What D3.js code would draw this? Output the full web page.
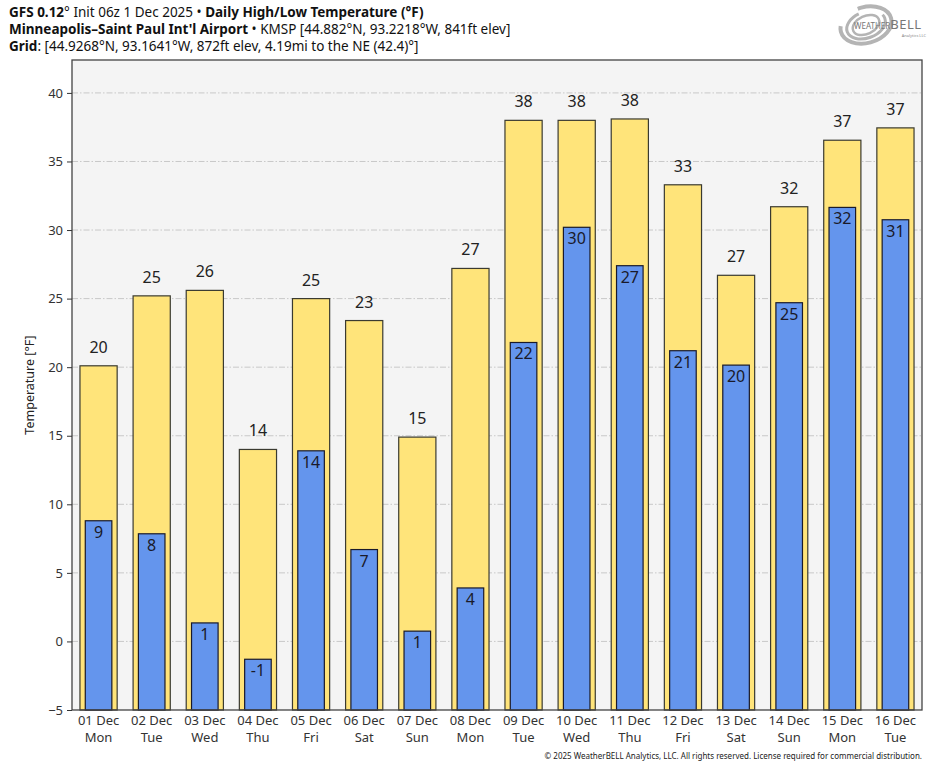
<!DOCTYPE html>
<html>
<head>
<meta charset="utf-8">
<script src="https://cdn.jsdelivr.net/npm/d3@7"></script>
<style>
  body { margin: 0; background: #fff; }
  text { font-family: "Noto Sans", "DejaVu Sans", sans-serif; }
</style>
</head>
<body>
<div id="my_dataviz"></div>
<script>

// data
var dayLabels = ["01 Dec","02 Dec","03 Dec","04 Dec","05 Dec","06 Dec","07 Dec","08 Dec",
                 "09 Dec","10 Dec","11 Dec","12 Dec","13 Dec","14 Dec","15 Dec","16 Dec"];
var weekdays = ["Mon","Tue","Wed","Thu","Fri","Sat","Sun","Mon",
                "Tue","Wed","Thu","Fri","Sat","Sun","Mon","Tue"];
var highs = [20.1, 25.2, 25.6, 14.0, 25.0, 23.4, 14.9, 27.2,
             38.0, 38.0, 38.1, 33.3, 26.7, 31.7, 36.55, 37.45];
var lows = [8.8, 7.85, 1.35, -1.3, 13.9, 6.7, 0.75, 3.9,
            21.8, 30.2, 27.4, 21.2, 20.15, 24.7, 31.65, 30.75];
var yTicks = [-5, 0, 5, 10, 15, 20, 25, 30, 35, 40];

var totalW = 943, totalH = 766;
var margin = {top: 60, right: 21, bottom: 56, left: 72},
    width = totalW - margin.left - margin.right,
    height = totalH - margin.top - margin.bottom;

var root = d3.select("#my_dataviz")
  .append("svg")
    .attr("width", totalW)
    .attr("height", totalH);

// header lines
var header = root.append("g").attr("font-size", 13.5).attr("fill", "#111");
var l1 = header.append("text").attr("x", 9).attr("y", 16.5);
l1.append("tspan").attr("font-weight", "bold").text("GFS 0.12");
l1.append("tspan").text("° Init 06z 1 Dec 2025 • ");
l1.append("tspan").attr("font-weight", "bold").text("Daily High/Low Temperature (°F)");
var l2 = header.append("text").attr("x", 9).attr("y", 33.5);
l2.append("tspan").attr("font-weight", "bold").text("Minneapolis–Saint Paul Int'l Airport");
l2.append("tspan").text(" • KMSP [44.882°N, 93.2218°W, 841ft elev]");
var l3 = header.append("text").attr("x", 9).attr("y", 50.5);
l3.append("tspan").attr("font-weight", "bold").text("Grid");
l3.append("tspan").text(": [44.9268°N, 93.1641°W, 872ft elev, 4.19mi to the NE (42.4)°]");

// logo
var logo = root.append("g").attr("transform", "translate(866,25)");
[[26, 18, -15, 4], [20, 13, -20, 3], [14, 9, -25, 2.5]].forEach(function(e) {
  logo.append("ellipse")
    .attr("rx", e[0]).attr("ry", e[1])
    .attr("transform", "rotate(" + e[2] + ")")
    .attr("fill", "none")
    .attr("stroke", "#b4b4b4")
    .attr("stroke-width", e[3])
    .attr("stroke-dasharray", "75,25");
});
var logoText = logo.append("text").attr("x", -12).attr("y", 4)
  .attr("font-family", "Liberation Serif, serif").attr("fill", "#777");
logoText.append("tspan").attr("font-size", 8).text("WEATHER");
logoText.append("tspan").attr("font-size", 13).attr("letter-spacing", 0.5).text("BELL");
logo.append("text").attr("x", 60).attr("y", 12).attr("text-anchor", "end")
  .attr("font-size", 4).attr("fill", "#888")
  .text("Analytics LLC");

var svg = root.append("g")
    .attr("transform", "translate(" + margin.left + "," + margin.top + ")");

// scales
var x = d3.scaleBand()
  .domain(dayLabels)
  .range([0, width])
  .padding(0);

var y = d3.scaleLinear()
  .domain([-5, 42.4])
  .range([height, 0]);

// plot background
svg.append("rect")
  .attr("width", width)
  .attr("height", height)
  .attr("fill", "#f4f4f4");

// grid lines
svg.append("g")
  .selectAll("line")
  .data(yTicks.filter(function(d) { return d > -5; }))
  .enter()
  .append("line")
    .attr("x1", 0).attr("x2", width)
    .attr("y1", function(d) { return y(d); })
    .attr("y2", function(d) { return y(d); })
    .attr("stroke", "#c8c8c8")
    .attr("stroke-width", 1)
    .attr("stroke-dasharray", "6,2,1.5,2");

var step = x.bandwidth();
var hiW = step * 0.70, loW = step * 0.50;

// high bars
svg.selectAll("hiBars")
  .data(highs)
  .enter()
  .append("rect")
    .attr("x", function(d, i) { return x(dayLabels[i]) + (step - hiW) / 2; })
    .attr("y", function(d) { return y(d); })
    .attr("width", hiW)
    .attr("height", function(d) { return y(-5) - y(d); })
    .attr("fill", "#ffe47a")
    .attr("stroke", "#3a3a30")
    .attr("stroke-width", 1.2);

// low bars
svg.selectAll("loBars")
  .data(lows)
  .enter()
  .append("rect")
    .attr("x", function(d, i) { return x(dayLabels[i]) + (step - loW) / 2; })
    .attr("y", function(d) { return y(d); })
    .attr("width", loW)
    .attr("height", function(d) { return y(-5) - y(d); })
    .attr("fill", "#6495ed")
    .attr("stroke", "#1a1a2a")
    .attr("stroke-width", 1.2);

// value labels
svg.selectAll("hiLabels")
  .data(highs)
  .enter()
  .append("text")
    .attr("x", function(d, i) { return x(dayLabels[i]) + step / 2; })
    .attr("y", function(d) { return y(d) - 13; })
    .attr("text-anchor", "middle")
    .attr("font-size", 16)
    .attr("fill", "#222")
    .text(function(d) { return Math.round(d); });

svg.selectAll("loLabels")
  .data(lows)
  .enter()
  .append("text")
    .attr("x", function(d, i) { return x(dayLabels[i]) + step / 2; })
    .attr("y", function(d) { return y(d) + 17; })
    .attr("text-anchor", "middle")
    .attr("font-size", 16)
    .attr("fill", "#1a1a2a")
    .text(function(d) { return Math.round(d); });

// frame
svg.append("rect")
  .attr("width", width)
  .attr("height", height)
  .attr("fill", "none")
  .attr("stroke", "#444")
  .attr("stroke-width", 1.3);

// y axis
var yAxis = svg.append("g")
  .call(d3.axisLeft(y).tickValues(yTicks).tickSize(5).tickPadding(4))
yAxis.select(".domain").remove();
yAxis.selectAll("line").attr("stroke", "#333");
yAxis.selectAll("text")
  .attr("font-family", "Noto Sans, sans-serif")
  .attr("font-size", 13)
  .attr("fill", "#333");

svg.append("text")
  .attr("transform", "rotate(-90)")
  .attr("x", -height / 2)
  .attr("y", -38)
  .attr("text-anchor", "middle")
  .attr("font-size", 12.5)
  .attr("fill", "#222")
  .text("Temperature [°F]");

// x axis, two-line labels
var xAxis = svg.append("g")
  .attr("transform", "translate(0," + height + ")")
  .call(d3.axisBottom(x).tickSize(0).tickFormat(""));
xAxis.select(".domain").remove();
xAxis.selectAll(".tick").each(function(d, i) {
  var t = d3.select(this).append("text")
    .attr("text-anchor", "middle")
    .attr("font-family", "Noto Sans, sans-serif")
    .attr("font-size", 13)
    .attr("fill", "#333");
  t.append("tspan").attr("x", 0).attr("y", 15).text(d);
  t.append("tspan").attr("x", 0).attr("y", 32).text(weekdays[i]);
});

// footer
root.append("text")
  .attr("x", margin.left + width)
  .attr("y", 759)
  .attr("text-anchor", "end")
  .attr("font-size", 8)
  .attr("fill", "#222")
  .text("© 2025 WeatherBELL Analytics, LLC. All rights reserved. License required for commercial distribution.");

</script>
</body>
</html>
